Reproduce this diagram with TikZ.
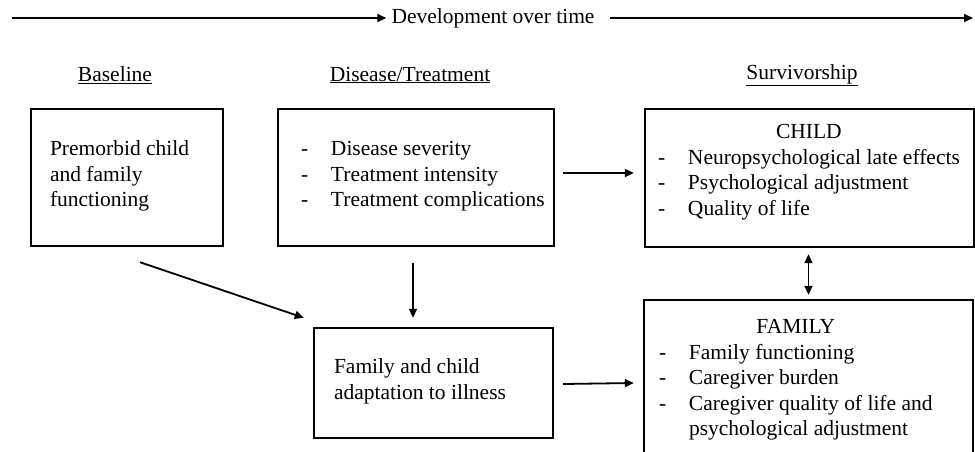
\documentclass[tikz,border=0pt]{standalone}
\usepackage{fontspec}
\setmainfont{Liberation Serif}
\usetikzlibrary{arrows.meta}
\tikzset{
    box/.style = {draw, line width = 2.4pt, inner sep = 0pt},
    txt/.style = {inner sep = 0pt, anchor = north west},
    conn/.style = {line width = 1.8pt}
}
\newcommand{\itm}{\makebox[30pt][l]{-}}

\begin{document}
\begin{tikzpicture}[x = 1pt, y = -1pt, font = \fontsize{21.5}{25.5}\selectfont, >={Triangle[length = 9pt, width = 8pt]}]
    \clip (0,0) rectangle (975,451);
    \coordinate (tl) at (12,18);
    \coordinate (tr) at (973,18);
    \node[inner xsep = 5pt, inner ysep = 0pt] (dev) at (493,18) {Development over time};
    \draw[conn, ->] (tl) -- (dev);
    \draw[conn, ->, shorten <= 10pt] (dev) -- (tr);
    \node (hbase) at (115,75) {\underline{Baseline}};
    \node (hdis) at (410,75) {\underline{Disease/Treatment}};
    \node (hsurv) at (802,75) {\underline{Survivorship}};
    \node[box, minimum width = 192pt, minimum height = 137pt] (base) at (127,177.5) {};
    \node[box, minimum width = 276pt, minimum height = 137pt] (dis) at (416,177.5) {};
    \node[box, minimum width = 329pt, minimum height = 138pt] (child) at (809.5,178) {};
    \node[box, minimum width = 239pt, minimum height = 110pt] (adapt) at (433.5,383) {};
    \node[box, minimum width = 329pt, minimum height = 170pt] (fam) at (808.5,385) {};
    \node[txt] (basetext) at ([shift = {(20,30)}]base.north west) {\begin{tabular}{@{}l@{}}Premorbid child\\ and family\\ functioning\end{tabular}};
    \node[txt] (distext) at ([shift = {(24,30)}]dis.north west) {\begin{tabular}{@{}l@{}}\itm Disease severity\\ \itm Treatment intensity\\ \itm Treatment complications\end{tabular}};
    \node[txt] (childtext) at ([shift = {(14,13)}]child.north west) {\begin{tabular}{@{}l@{}}\multicolumn{1}{c}{CHILD}\\ \itm Neuropsychological late effects\\ \itm Psychological adjustment\\ \itm Quality of life\end{tabular}};
    \node[txt] (adapttext) at ([shift = {(21,29)}]adapt.north west) {\begin{tabular}{@{}l@{}}Family and child\\ adaptation to illness\end{tabular}};
    \node[txt] (famtext) at ([shift = {(16,17)}]fam.north west) {\begin{tabular}{@{}l@{}}\multicolumn{1}{c}{FAMILY}\\ \itm Family functioning\\ \itm Caregiver burden\\ \itm Caregiver quality of life and\\ \hspace{30pt}psychological adjustment\end{tabular}};
    \draw[conn, ->] ([shift = {(8,-4.5)}]dis.east) -- ([shift = {(-10,-5)}]child.west);
    \draw[conn, ->] ([shift = {(9,1)}]adapt.east) -- ([shift = {(-9,-2)}]fam.west);
    \draw[conn, ->] ([shift = {(13,15)}]base.south) -- ([shift = {(-9,-9)}]adapt.north west);
    \coordinate (dfrom) at ([shift = {(-3,16)}]dis.south);
    \draw[conn, ->, shorten >= 9pt] (dfrom) -- (dfrom |- adapt.north);
    \draw[conn, <->, shorten <= 6pt, shorten >= 4pt] (child.south -| fam.north) -- (fam.north);
\end{tikzpicture}
\end{document}
